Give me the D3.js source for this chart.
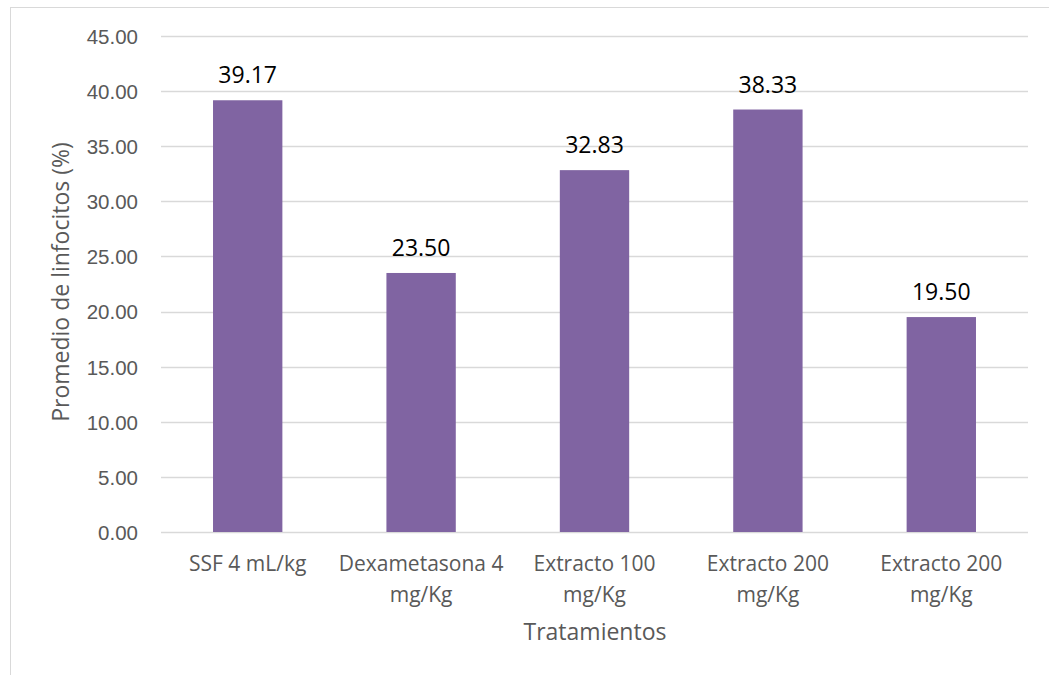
<!DOCTYPE html>
<html>
<head>
<meta charset="utf-8">
<script src="https://cdn.jsdelivr.net/npm/d3@7"></script>
<style>
  html, body { margin: 0; padding: 0; background: #fff; }
  svg { display: block; font-family: "Open Sans", "Liberation Sans", sans-serif; }
</style>
</head>
<body>
<svg id="chart" width="1049" height="675"></svg>
<script>
const categories = [
  ["SSF 4 mL/kg"],
  ["Dexametasona 4", "mg/Kg"],
  ["Extracto 100", "mg/Kg"],
  ["Extracto 200", "mg/Kg"],
  ["Extracto 200", "mg/Kg"]
];
const values = [39.17, 23.50, 32.83, 38.33, 19.50];
const yTicks = [0, 5, 10, 15, 20, 25, 30, 35, 40, 45];
const yTitle = "Promedio de linfocitos (%)";
const xTitle = "Tratamientos";

const svg = d3.select("#chart");
const W = 1049, H = 675;
const m = { left: 161, right: 1028, top: 36, bottom: 532 };

// outer chart border
svg.append("rect")
  .attr("x", 10.5).attr("y", 7.5)
  .attr("width", W + 20).attr("height", H + 20)
  .attr("fill", "none").attr("stroke", "#d9d9d9").attr("stroke-width", 1);

const x = d3.scaleBand()
  .domain(d3.range(categories.length))
  .range([m.left, m.right])
  .paddingInner(0.6).paddingOuter(0.3);

const y = d3.scaleLinear().domain([0, 45]).range([m.bottom, m.top]);

// gridlines
svg.append("g")
  .selectAll("line")
  .data(yTicks)
  .join("line")
  .attr("x1", m.left).attr("x2", m.right)
  .attr("y1", d => Math.round(y(d)) + 0.5).attr("y2", d => Math.round(y(d)) + 0.5)
  .attr("stroke", "#d9d9d9").attr("stroke-width", 1.3);

// y axis labels
const yAxis = d3.axisLeft(y).tickValues(yTicks).tickFormat(d3.format(".2f")).tickSize(0).tickPadding(0);
const gy = svg.append("g").attr("transform", `translate(${138},0)`).call(yAxis);
gy.select(".domain").remove();
gy.selectAll("text")
  .attr("fill", "#595959")
  .style("font-size", "20.5px")
  .attr("dy", "0.36em");

// bars
svg.append("g")
  .selectAll("rect")
  .data(values)
  .join("rect")
  .attr("x", (d, i) => x(i))
  .attr("width", x.bandwidth())
  .attr("y", d => y(d))
  .attr("height", d => y(0) - y(d))
  .attr("fill", "#8064a2");

// data labels
svg.append("g")
  .selectAll("text")
  .data(values)
  .join("text")
  .attr("x", (d, i) => x(i) + x.bandwidth() / 2)
  .attr("y", d => y(d) - 17)
  .attr("text-anchor", "middle")
  .attr("fill", "#000")
  .style("font-size", "23px")
  .text(d => d3.format(".2f")(d));

// category labels
const xl = svg.append("g")
  .selectAll("text")
  .data(categories)
  .join("text")
  .attr("x", (d, i) => x(i) + x.bandwidth() / 2)
  .attr("y", 571)
  .attr("text-anchor", "middle")
  .attr("fill", "#595959")
  .style("font-size", "21px");
xl.selectAll("tspan")
  .data(d => d)
  .join("tspan")
  .attr("x", function() { return d3.select(this.parentNode).attr("x"); })
  .attr("dy", (d, j) => j === 0 ? 0 : 31)
  .text(d => d);

// axis titles
svg.append("text")
  .attr("x", 595)
  .attr("y", 640)
  .attr("text-anchor", "middle")
  .attr("fill", "#595959")
  .style("font-size", "23px")
  .text(xTitle);

svg.append("text")
  .attr("transform", `translate(69,282) rotate(-90)`)
  .attr("text-anchor", "middle")
  .attr("fill", "#595959")
  .style("font-size", "23px")
  .text(yTitle);
</script>
</body>
</html>
